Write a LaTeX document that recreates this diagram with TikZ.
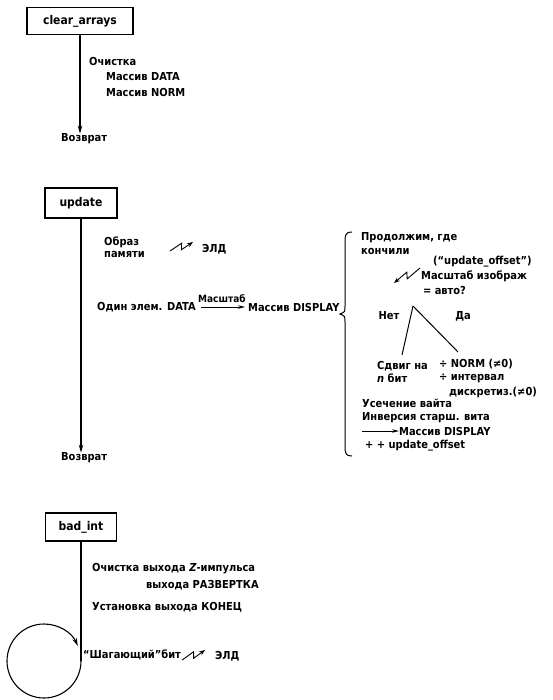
\documentclass[tikz,border=0pt]{standalone}
\usepackage{fontspec}
\setmainfont{DejaVu Sans Condensed}
\usepackage{tikz}
\usetikzlibrary{arrows.meta, positioning, calc}
\tikzset{
    box/.style={draw, line width=1.6pt, inner sep=0pt, font=\fontsize{12}{14}\selectfont\bfseries},
    flow/.style={-{Stealth[length=8pt, width=4.5pt]}, line width=1.1pt},
    txt/.style={anchor=west, inner sep=0pt, align=left},
    zap/.style={-{Stealth[length=6pt, width=4.5pt]}, line width=0.9pt,
        to path={-- ($(\tikztostart)!0.55!(\tikztotarget)!3pt!90:(\tikztotarget)$)
                 -- ($(\tikztostart)!0.45!(\tikztotarget)!3pt!-90:(\tikztotarget)$)
                 -- (\tikztotarget)}},
    every node/.style={font=\fontsize{11}{13}\selectfont\bfseries}
}

\begin{document}
\begin{tikzpicture}[x=1pt, y=-1pt]
    \useasboundingbox (0,0) rectangle (552,700);
    % clear_arrays
    \node[box, minimum width=106pt, minimum height=27pt] (clr) at (80,21) {clear\_arrays};
    \node[txt] (clrA) at (89,61) {Очистка};
    \node[txt] (clrB) at (106,77) {Массив DATA};
    \node[txt] (clrC) at (106,92) {Массив NORM};
    \node[txt] (retA) at (61,139) {Возврат};
    \draw[flow] (clr.south) -- (clr.south |- retA.north);

    % update
    \node[box, minimum width=72pt, minimum height=30pt] (upd) at (81,203) {update};
    \node[txt, font=\fontsize{11}{12}\selectfont\bfseries] (mem) at (104,247) {Образ\\памяти};
    \node[txt] (eldA) at (202,249) {ЭЛД};
    \coordinate (zapA) at (170,251);
    \coordinate (zapB) at (193,242);
    \draw[zap] (zapA) to (zapB);
    \node[txt] (data) at (97,307) {Один элем. DATA};
    \node[txt] (dispA) at (248,307) {Массив DISPLAY};
    \draw[-{Stealth[length=7pt, width=3.5pt]}, line width=0.8pt, shorten <=5pt, shorten >=3pt]
        (data.east) -- (dispA.west) node[midway, above=1pt, font=\fontsize{10}{12}\selectfont\bfseries] {Масштаб};
    \node[txt] (retB) at (61,458) {Возврат};
    \draw[flow] (upd.south) -- (upd.south |- retB.north);
    % brace
    \draw[line width=1pt] (352,232) .. controls (345,232) and (345,236) .. (345,242) -- (345,306)
        .. controls (345,312) .. (340,314) .. controls (345,316) .. (345,322) -- (345,446)
        .. controls (345,454) and (346,456) .. (352,456);
    % update_offset branch
    \node[txt, font=\fontsize{11}{14}\selectfont\bfseries] (cont) at (361,244) {Продолжим, где\\кончили};
    \node[txt] (offs) at (433,262) {(“update\_offset”)};
    \node[txt, font=\fontsize{11}{15}\selectfont\bfseries] (scl) at (421,283) {Масштаб изображ\\\,= авто?};
    \coordinate (zapC) at (420,268);
    \coordinate (zapD) at (394,283);
    \draw[zap] (zapC) to (zapD);
    \node (no) at (389,316) {Нет};
    \node (yes) at (463,316) {Да};
    \coordinate (apex) at (413,306);
    \node[txt] (shift) at (377,372) {Сдвиг на\\\textit{n} бит};
    \node[txt] (norm) at (439,364) {÷ NORM (≠0)};
    \node[txt] (intv) at (439,378) {÷ интервал};
    \node[txt] (disc) at (449,392) {дискретиз.(≠0)};
    \draw[line width=1pt] (apex) -- (402,355);
    \draw[line width=1pt] (apex) -- (458,352);
    \node[txt] (trunc) at (362,403) {Усечение вайта};
    \node[txt] (inv) at (362,418) {Инверсия старш. вита};
    \node[txt] (dispB) at (399,431) {Массив DISPLAY};
    \coordinate (arrB) at (362,431);
    \draw[-{Stealth[length=7pt, width=3.5pt]}, line width=0.8pt] (arrB) -- (dispB.west);
    \node[txt] (incr) at (365,446) {+ + update\_offset};

    % bad_int
    \node[box, minimum width=71pt, minimum height=28pt] (bad) at (81,527) {bad\_int};
    \node[txt] (badA) at (92,569) {Очистка выхода \textit{Z}-импульса};
    \node[txt] (badB) at (146,585) {выхода РАЗВЕРТКА};
    \node[txt] (badC) at (92,607) {Установка выхода КОНЕЦ};
    \node[txt] (stepbit) at (83,655) {“Шагающий”бит};
    \node[txt] (eldB) at (215,656) {ЭЛД};
    \coordinate (zapE) at ([xshift=1pt, yshift=-5pt]stepbit.east);
    \coordinate (zapF) at ([xshift=-10pt, yshift=6pt]eldB.west);
    \draw[zap] (zapE) to (zapF);
    % loop
    \coordinate (lp) at (81,661);
    \draw[line width=1.1pt] (bad.south) -- (bad.south |- lp);
    \draw[flow] (lp) arc[start angle=0, end angle=336, radius=37];
\end{tikzpicture}
\end{document}
